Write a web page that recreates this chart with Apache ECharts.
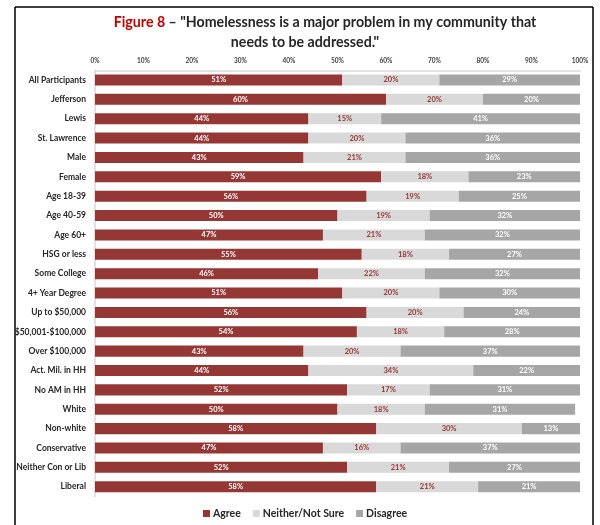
<!DOCTYPE html>
<html>
<head>
<meta charset="utf-8">
<script src="https://cdn.jsdelivr.net/npm/echarts@6/dist/echarts.min.js"></script>
<style>
  html, body { margin: 0; padding: 0; background: #ffffff; }
  #chart { width: 600px; height: 525px; }
</style>
</head>
<body>
<div id="chart"></div>
<script>
// Survey groups, top to bottom
const categories = [
  'All Participants', 'Jefferson', 'Lewis', 'St. Lawrence', 'Male', 'Female',
  'Age 18-39', 'Age 40-59', 'Age 60+', 'HSG or less', 'Some College',
  '4+ Year Degree', 'Up to $50,000', '$50,001-$100,000', 'Over $100,000',
  'Act. Mil. in HH', 'No AM in HH', 'White', 'Non-white', 'Conservative',
  'Neither Con or Lib', 'Liberal'
];

// Percent of respondents per answer
const agree    = [51, 60, 44, 44, 43, 59, 56, 50, 47, 55, 46, 51, 56, 54, 43, 44, 52, 50, 58, 47, 52, 58];
const neither  = [20, 20, 15, 20, 21, 18, 19, 19, 21, 18, 22, 20, 20, 18, 20, 34, 17, 18, 30, 16, 21, 21];
const disagree = [29, 20, 41, 36, 36, 23, 25, 32, 32, 27, 32, 30, 24, 28, 37, 22, 31, 31, 13, 37, 27, 21];

const tickValues = [0, 10, 20, 30, 40, 50, 60, 70, 80, 90, 100];

const FONT = 'Lato, "Open Sans", sans-serif';
const TITLE_SIZE = 14.2;

const chart = echarts.init(document.getElementById('chart'));

function seriesOf(name, data, color, labelColor) {
  return {
    name: name,
    type: 'bar',
    stack: 'total',
    barWidth: '57%',
    data: data,
    itemStyle: { color: color },
    label: {
      show: true,
      position: 'inside',
      formatter: p => p.value + '%',
      color: labelColor,
      fontFamily: FONT,
      fontWeight: 'bold',
      fontSize: 7.5
    }
  };
}

const titleStyle = {
  fontFamily: FONT,
  fontWeight: 'bold',
  fontSize: TITLE_SIZE,
  color: '#262626',
  rich: {
    red: { color: '#c00000', fontFamily: FONT, fontWeight: 'bold', fontSize: TITLE_SIZE }
  }
};

chart.setOption({
  backgroundColor: '#ffffff',
  animation: false,
  title: [
    {
      text: '{red|Figure 8} – "Homelessness is a major problem in my community that',
      left: 325, top: 15, textAlign: 'center', padding: 0,
      textStyle: titleStyle
    },
    {
      text: 'needs to be addressed."',
      left: 305, top: 35, textAlign: 'center', padding: 0,
      textStyle: titleStyle
    }
  ],
  legend: {
    data: ['Agree', 'Neither/Not Sure', 'Disagree'],
    top: 508,
    left: 203,
    padding: 0,
    itemWidth: 7,
    itemHeight: 7,
    itemGap: 12,
    icon: 'rect',
    textStyle: { fontFamily: FONT, fontWeight: 'bold', fontSize: 10.5, color: '#262626', padding: [0, 0, 0, -2] }
  },
  grid: { left: 95, right: 20, top: 70.3, bottom: 28.6, containLabel: false },
  xAxis: {
    type: 'value',
    position: 'top',
    min: tickValues[0],
    max: tickValues[tickValues.length - 1],
    interval: tickValues[1] - tickValues[0],
    axisLine: { show: true, lineStyle: { color: '#d9d9d9', width: 1.5 } },
    axisTick: { show: false },
    splitLine: { show: false },
    axisLabel: {
      formatter: '{value}%',
      fontFamily: FONT,
      fontWeight: 'bold',
      fontSize: 6.5,
      color: '#404040',
      margin: 6
    }
  },
  yAxis: {
    type: 'category',
    inverse: true,
    data: categories,
    axisLine: { show: true, lineStyle: { color: '#d9d9d9', width: 1.5 } },
    axisTick: { show: false },
    axisLabel: {
      fontFamily: FONT,
      fontWeight: 'bold',
      fontSize: 8.5,
      color: '#262626',
      margin: 9
    }
  },
  series: [
    seriesOf('Agree', agree, '#953735', '#ffffff'),
    seriesOf('Neither/Not Sure', neither, '#d9d9d9', '#953735'),
    seriesOf('Disagree', disagree, '#a6a6a6', '#ffffff')
  ],
  graphic: [
    { type: 'line', shape: { x1: 15, y1: 7, x2: 593, y2: 7 }, style: { stroke: '#000', lineWidth: 1.5 } },
    { type: 'line', shape: { x1: 15, y1: 7, x2: 15, y2: 525 }, style: { stroke: '#000', lineWidth: 1.5 } },
    { type: 'line', shape: { x1: 593, y1: 7, x2: 593, y2: 525 }, style: { stroke: '#000', lineWidth: 1.5 } }
  ]
});
</script>
</body>
</html>
